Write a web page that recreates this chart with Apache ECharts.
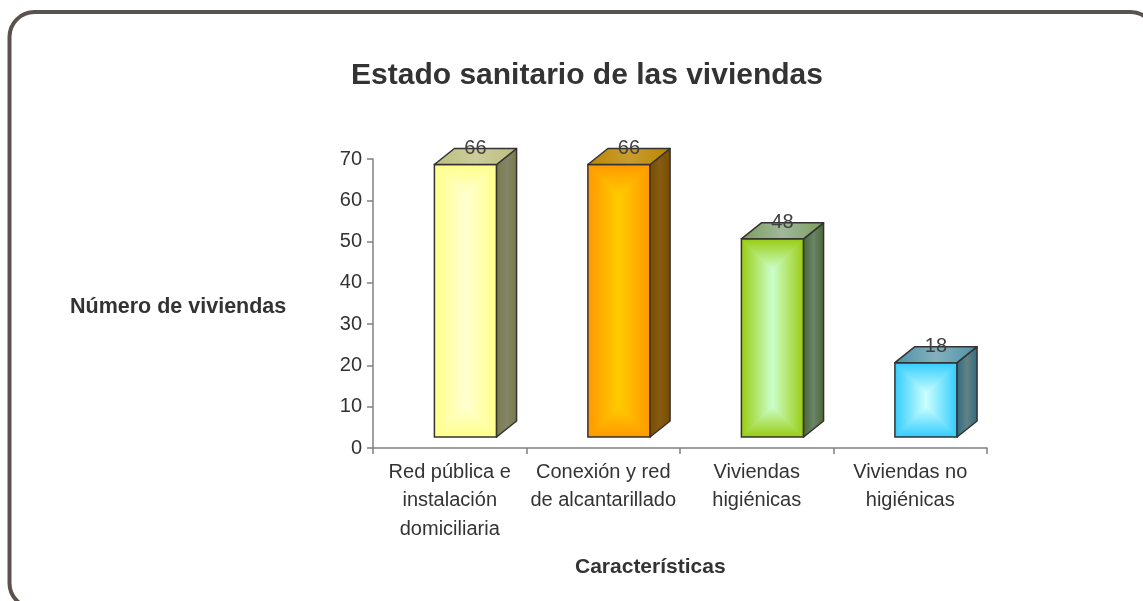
<!DOCTYPE html>
<html>
<head>
<meta charset="utf-8">
<script src="https://cdn.jsdelivr.net/npm/echarts@6/dist/echarts.min.js"></script>
<style>
  html, body { margin: 0; padding: 0; background: #fff; }
  #chart { width: 1143px; height: 601px; }
</style>
</head>
<body>
<div id="chart"></div>
<script>
// data
var categories = [
  'Red pública e\ninstalación\ndomiciliaria',
  'Conexión y red\nde alcantarillado',
  'Viviendas\nhigiénicas',
  'Viviendas no\nhigiénicas'
];
var values = [66, 66, 48, 18];
var yTicks = { min: 0, max: 70, interval: 10 };

// colours per bar: front edge / front centre / side edge / side mid / top edge / top mid
var palette = [
  { edge: '#ffff8a', center: '#ffffd2', side: '#7a7a48', sideMid: '#84846a', top: '#bdbd7e', topMid: '#cccc9c' },
  { edge: '#ff9900', center: '#ffcc00', side: '#7a4c00', sideMid: '#855c10', top: '#bb8600', topMid: '#c89c30' },
  { edge: '#99cc11', center: '#ccffcc', side: '#4a6630', sideMid: '#6a846a', top: '#7c9e5c', topMid: '#a0b89a' },
  { edge: '#33ccff', center: '#ccffff', side: '#2e6a82', sideMid: '#628282', top: '#4c92a8', topMid: '#84b0bc' }
];

var DX = 20, DY = -16, FLOOR = 11;
var LINE = '#333333';
var FONT = 'Liberation Sans, Arial, sans-serif';

function lin(x, y, x2, y2, stops) {
  return new echarts.graphic.LinearGradient(x, y, x2, y2, stops);
}

function renderItem(params, api) {
  var idx = api.value(0);
  var val = api.value(1);
  var p0 = api.coord([idx, 0]);
  var p1 = api.coord([idx, val]);
  var band = api.size([1, 0])[0];
  var w = band * 0.405;
  var x0 = p0[0] - band * 0.1;
  var x1 = x0 + w;
  var yb = p0[1] - FLOOR;
  var yt = p1[1] - FLOOR;
  var c = palette[idx];
  var m = Math.min(w, yb - yt) / 2;

  var edgeToCenter = [{ offset: 0, color: c.edge }, { offset: 1, color: c.center }];
  var children = [];

  // front face: base fill then "from centre" rectangular gradient in 4 pieces
  children.push({
    type: 'rect',
    shape: { x: x0, y: yt, width: w, height: yb - yt },
    style: { fill: lin(0, 0, 1, 0, [{ offset: 0, color: c.edge }, { offset: 0.5, color: c.center }, { offset: 1, color: c.edge }]) }
  });
  children.push({
    type: 'polygon',
    shape: { points: [[x0, yt], [x0 + m, yt + m], [x0 + m, yb - m], [x0, yb]] },
    style: { fill: lin(0, 0, 1, 0, edgeToCenter) }
  });
  children.push({
    type: 'polygon',
    shape: { points: [[x1, yt], [x1 - m, yt + m], [x1 - m, yb - m], [x1, yb]] },
    style: { fill: lin(1, 0, 0, 0, edgeToCenter) }
  });
  children.push({
    type: 'polygon',
    shape: { points: [[x0, yt], [x1, yt], [x1 - m, yt + m], [x0 + m, yt + m]] },
    style: { fill: lin(0, 0, 0, 1, edgeToCenter) }
  });
  children.push({
    type: 'polygon',
    shape: { points: [[x0, yb], [x1, yb], [x1 - m, yb - m], [x0 + m, yb - m]] },
    style: { fill: lin(0, 1, 0, 0, edgeToCenter) }
  });
  children.push({
    type: 'rect',
    shape: { x: x0, y: yt, width: w, height: yb - yt },
    style: { fill: 'none', stroke: LINE, lineWidth: 1.5 }
  });

  // side face
  children.push({
    type: 'polygon',
    shape: { points: [[x1, yt], [x1 + DX, yt + DY], [x1 + DX, yb + DY], [x1, yb]] },
    style: {
      fill: lin(0, 0, 1, 0, [{ offset: 0, color: c.side }, { offset: 0.5, color: c.sideMid }, { offset: 1, color: c.side }]),
      stroke: LINE, lineWidth: 1.5, lineJoin: 'round'
    }
  });
  // top face
  children.push({
    type: 'polygon',
    shape: { points: [[x0, yt], [x0 + DX, yt + DY], [x1 + DX, yt + DY], [x1, yt]] },
    style: {
      fill: lin(0, 0, 1, 0, [{ offset: 0, color: c.top }, { offset: 0.5, color: c.topMid }, { offset: 1, color: c.top }]),
      stroke: LINE, lineWidth: 1.5, lineJoin: 'round'
    }
  });
  // value label
  children.push({
    type: 'text',
    z2: 10,
    style: {
      text: String(val),
      x: (x0 + x1) / 2 + DX / 2,
      y: yt + DY,
      align: 'center',
      verticalAlign: 'middle',
      fontSize: 20,
      fontFamily: FONT,
      fill: '#404040'
    }
  });
  return { type: 'group', children: children };
}

var chart = echarts.init(document.getElementById('chart'));
chart.setOption({
  backgroundColor: '#ffffff',
  animation: false,
  title: {
    text: 'Estado sanitario de las viviendas',
    left: 582,
    top: 56,
    textAlign: 'center',
    textStyle: { fontSize: 30, fontWeight: 'bold', color: '#333333', fontFamily: FONT }
  },
  grid: { left: 373, right: 156, top: 159, bottom: 153 },
  xAxis: {
    type: 'category',
    data: categories,
    axisLine: { lineStyle: { color: '#808080', width: 1.5 } },
    axisTick: { show: true, length: 6, lineStyle: { color: '#808080', width: 1.5 } },
    axisLabel: {
      color: '#333333', fontSize: 20, lineHeight: 28.5, margin: 10, interval: 0,
      fontFamily: FONT
    },
    splitLine: { show: false }
  },
  yAxis: {
    type: 'value',
    min: yTicks.min,
    max: yTicks.max,
    interval: yTicks.interval,
    axisLine: { show: true, lineStyle: { color: '#808080', width: 1.5 } },
    axisTick: { show: true, length: 6, lineStyle: { color: '#808080', width: 1.5 } },
    axisLabel: {
      color: '#333333', fontSize: 20, margin: 11,
      fontFamily: FONT
    },
    splitLine: { show: false }
  },
  graphic: [
    {
      type: 'rect',
      shape: { x: 9.5, y: 12, width: 1146, height: 596, r: 25 },
      style: { fill: 'none', stroke: '#5a524e', lineWidth: 4 },
      z: -1
    },
    {
      type: 'text',
      left: 70,
      top: 296,
      style: {
        text: 'Número de viviendas',
        fontSize: 21.5, fontWeight: 'bold', fill: '#333333',
        fontFamily: FONT
      }
    },
    {
      type: 'text',
      left: 575,
      top: 557,
      style: {
        text: 'Características',
        fontSize: 21, fontWeight: 'bold', fill: '#333333',
        fontFamily: FONT
      }
    }
  ],
  series: [{
    type: 'custom',
    renderItem: renderItem,
    encode: { x: 0, y: 1 },
    data: values.map(function (v, i) { return [i, v]; }),
    clip: false
  }]
});
</script>
</body>
</html>
